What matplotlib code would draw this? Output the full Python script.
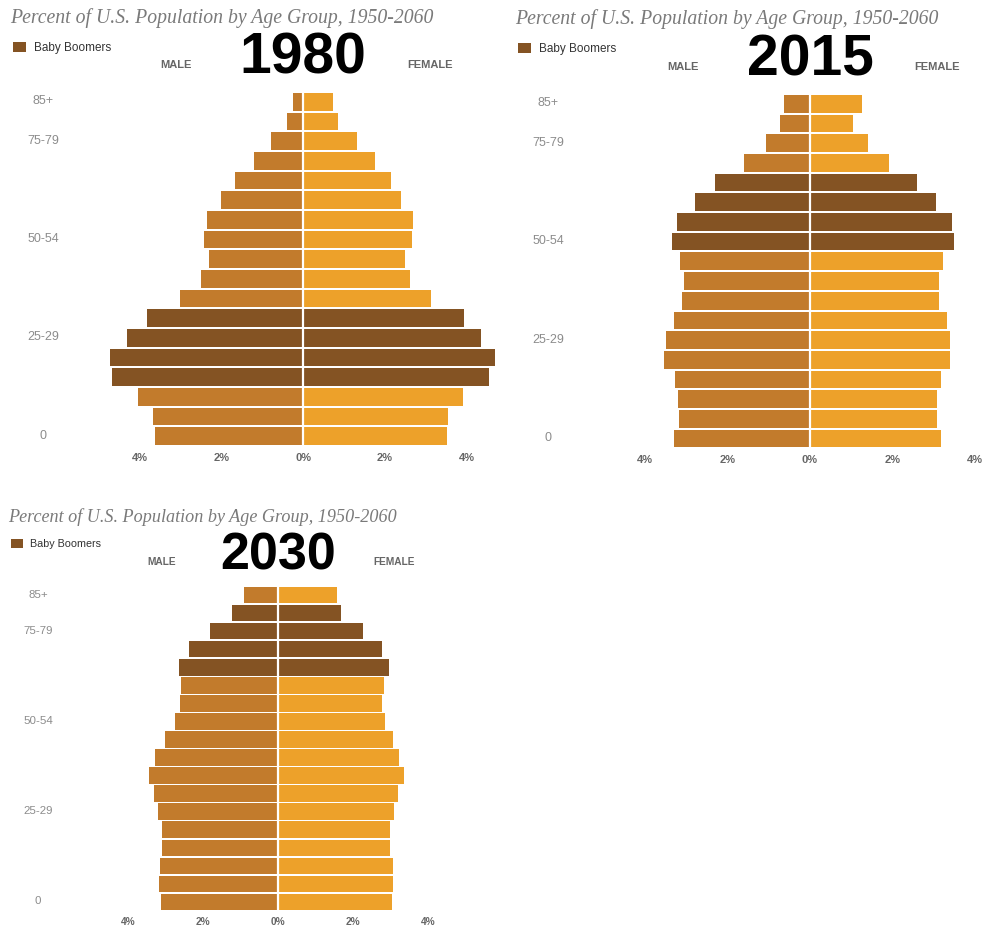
import matplotlib
matplotlib.use("Agg")
import matplotlib.pyplot as plt

W, H = 982, 928

age_groups = ["0-4", "5-9", "10-14", "15-19", "20-24", "25-29", "30-34", "35-39",
              "40-44", "45-49", "50-54", "55-59", "60-64", "65-69", "70-74",
              "75-79", "80-84", "85+"]
tick_groups = ["85+", "75-79", "50-54", "25-29", "0-4"]
tick_labels = ["85+", "75-79", "50-54", "25-29", "0"]
x_ticks = [-4, -2, 0, 2, 4]
x_tick_labels = ["4%", "2%", "0%", "2%", "4%"]

male_1980 = [3.63, 3.68, 4.04, 4.68, 4.74, 4.31, 3.84, 3.01, 2.50, 2.32, 2.43,
             2.37, 2.01, 1.67, 1.21, 0.78, 0.41, 0.26]
female_1980 = [3.52, 3.55, 3.91, 4.55, 4.71, 4.35, 3.94, 3.13, 2.62, 2.49, 2.67,
               2.70, 2.39, 2.15, 1.75, 1.31, 0.84, 0.72]
boomers_1980 = ["15-19", "20-24", "25-29", "30-34"]

male_2015 = [3.29, 3.19, 3.21, 3.28, 3.55, 3.50, 3.31, 3.11, 3.06, 3.16, 3.34,
             3.24, 2.80, 2.31, 1.59, 1.08, 0.72, 0.62]
female_2015 = [3.17, 3.08, 3.08, 3.17, 3.40, 3.40, 3.32, 3.14, 3.14, 3.22, 3.50,
               3.45, 3.07, 2.60, 1.91, 1.40, 1.04, 1.27]
boomers_2015 = ["50-54", "55-59", "60-64", "65-69"]

male_2030 = [3.14, 3.19, 3.15, 3.11, 3.11, 3.22, 3.31, 3.44, 3.28, 3.03, 2.75,
             2.62, 2.59, 2.65, 2.38, 1.81, 1.24, 0.91]
female_2030 = [3.04, 3.07, 3.07, 2.99, 2.99, 3.09, 3.19, 3.35, 3.22, 3.07, 2.84,
               2.76, 2.82, 2.94, 2.76, 2.27, 1.67, 1.57]
boomers_2030 = ["65-69", "70-74", "75-79", "80-84"]

MALE_C = "#C27B2C"
FEMALE_C = "#EDA12A"
BOOMER_C = "#845323"
TITLE = "Percent of U.S. Population by Age Group, 1950-2060"
XLIM = 4.75

fig = plt.figure(figsize=(W / 100, H / 100), dpi=100)


def fx(x):
    return x / W


def fy(y):
    return 1 - y / H


def pyramid(year, male, female, boomers, center, px_pct, top, bottom,
            label_x, scale, title_x, title_y, title_size):
    # axes placed in pixel space so that 0% sits at `center`
    left = center - XLIM * px_pct
    ax = fig.add_axes([fx(left), fy(bottom), 2 * XLIM * px_pct / W, (bottom - top) / H])
    ypos = list(range(len(age_groups)))
    mcol = [BOOMER_C if g in boomers else MALE_C for g in age_groups]
    fcol = [BOOMER_C if g in boomers else FEMALE_C for g in age_groups]
    ax.barh(ypos, [-v for v in male], height=0.9, color=mcol, linewidth=0)
    ax.barh(ypos, female, height=0.9, color=fcol, linewidth=0)
    ax.axvline(0, color="white", lw=1.6)
    ax.set_xlim(-XLIM, XLIM)
    ax.set_ylim(-0.5, len(age_groups) - 0.5)
    for s in ax.spines.values():
        s.set_visible(False)
    ax.set_xticks(x_ticks, x_tick_labels)
    ax.set_yticks([age_groups.index(g) + 0.15 for g in tick_groups], tick_labels)
    ax.tick_params(axis="x", length=0, pad=4 * scale, labelsize=8 * scale,
                   labelcolor="#666666")
    ax.tick_params(axis="y", length=0, pad=(left - label_x) * 0.72,
                   labelsize=9 * scale, labelcolor="#8c8c8c")
    for t in ax.get_xticklabels():
        t.set_fontweight("bold")
        t.set_fontfamily("Liberation Sans")
    for t in ax.get_yticklabels():
        t.set_ha("center")
        t.set_fontfamily("Liberation Sans")

    fig.text(fx(title_x), fy(title_y), TITLE, fontsize=title_size, style="italic",
             family="Liberation Serif", color="#7a7a7a", va="center", ha="left")
    # legend swatch + label
    sw = 13 * scale
    ax_l = fig.add_axes([fx(title_x + 3), fy(title_y + 35 * scale), sw / W, 10 * scale / H])
    ax_l.set_facecolor(BOOMER_C)
    ax_l.set_xticks([])
    ax_l.set_yticks([])
    for s in ax_l.spines.values():
        s.set_visible(False)
    fig.text(fx(title_x + 24 * scale), fy(title_y + 30 * scale), "Baby Boomers",
             fontsize=8.5 * scale, family="Liberation Sans", color="#333333",
             va="center", ha="left")
    fig.text(fx(center - 127 * scale), fy(top - 28 * scale), "MALE", fontsize=8 * scale,
             weight="bold", family="Liberation Sans", color="#666666",
             va="center", ha="center")
    fig.text(fx(center + 127 * scale), fy(top - 28 * scale), "FEMALE", fontsize=8 * scale,
             weight="bold", family="Liberation Sans", color="#666666",
             va="center", ha="center")
    fig.text(fx(center), fy(top - 34 * scale), year, fontsize=41 * scale,
             weight="bold", family="Liberation Sans", color="black",
             va="center", ha="center")
    return ax


pyramid("1980", male_1980, female_1980, boomers_1980, 303.3, 40.8, 93, 447,
        43, 1.0, 10, 18, 14.2)
pyramid("2015", male_2015, female_2015, boomers_2015, 810, 41.2, 95, 449.3,
        548, 1.0, 515, 19, 14.2)
pyramid("2030", male_2030, female_2030, boomers_2030, 278.3, 37.5, 587.3, 911.7,
        38, 0.915, 8, 517, 13.1)

plt.savefig("out.png", dpi=100)
